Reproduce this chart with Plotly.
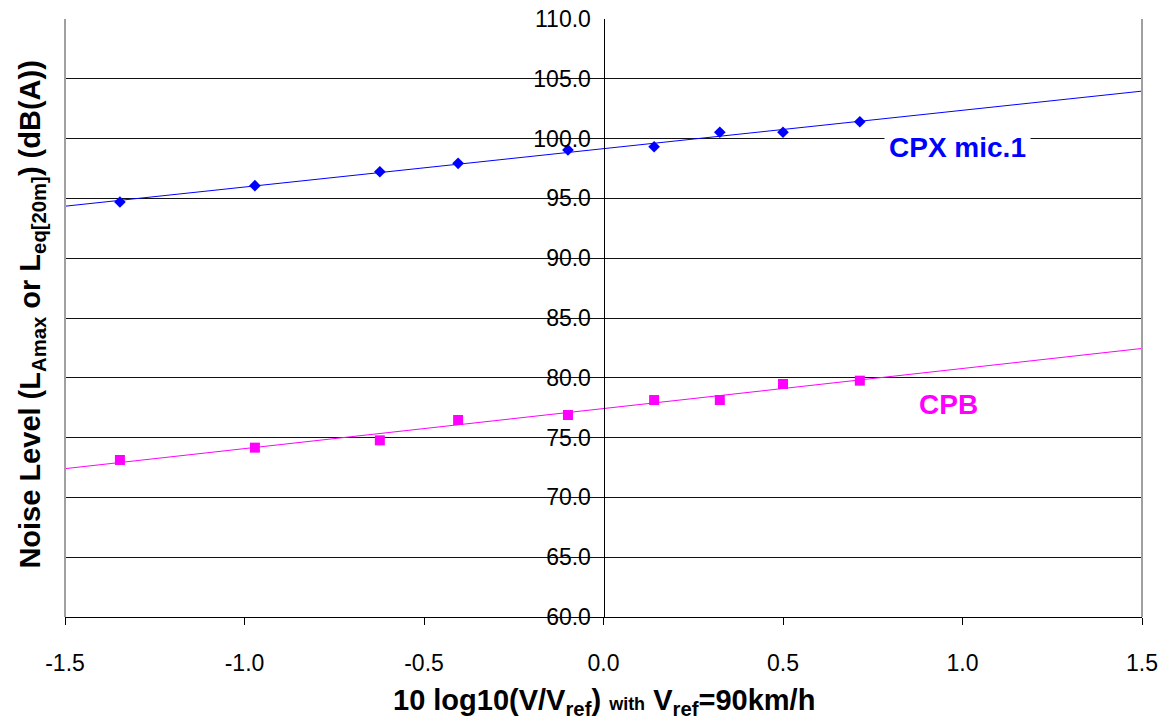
import numpy as np
import plotly.graph_objects as go

# Data
x_vals = [-1.347, -0.971, -0.623, -0.405, -0.099, 0.141, 0.324, 0.500, 0.714]
cpx_mic1 = [94.70, 96.06, 97.23, 97.93, 99.05, 99.32, 100.53, 100.53, 101.41]
cpb = [73.13, 74.16, 74.77, 76.47, 76.89, 78.14, 78.14, 79.48, 79.76]

x_ticks = [-1.5, -1.0, -0.5, 0.0, 0.5, 1.0, 1.5]
x_tick_labels = ["-1.5", "-1.0", "-0.5", "0.0", "0.5", "1.0", "1.5"]
y_ticks = [60, 65, 70, 75, 80, 85, 90, 95, 100, 105, 110]
y_tick_labels = ["60.0", "65.0", "70.0", "75.0", "80.0", "85.0", "90.0", "95.0", "100.0", "105.0", "110.0"]

x_range = [-1.5, 1.5]
y_range = [60, 110]

FONT = "Liberation Sans, Arial, sans-serif"
BLUE = "#0000ff"
MAGENTA = "#ff00ff"

# Linear trend lines (least squares from the data)
xs = np.array(x_vals)
line_x = np.array(x_range)
p_cpx = np.polyfit(xs, np.array(cpx_mic1), 1)
p_cpb = np.polyfit(xs, np.array(cpb), 1)

fig = go.Figure()
fig.add_trace(go.Scatter(x=line_x, y=np.polyval(p_cpx, line_x), mode="lines",
                         line=dict(color=BLUE, width=1), showlegend=False, hoverinfo="skip"))
fig.add_trace(go.Scatter(x=line_x, y=np.polyval(p_cpb, line_x), mode="lines",
                         line=dict(color=MAGENTA, width=1), showlegend=False, hoverinfo="skip"))
fig.add_trace(go.Scatter(x=x_vals, y=cpx_mic1, mode="markers", name="CPX mic.1",
                         marker=dict(symbol="diamond", size=9, color=BLUE), showlegend=False))
fig.add_trace(go.Scatter(x=x_vals, y=cpb, mode="markers", name="CPB",
                         marker=dict(symbol="square", size=10, color=MAGENTA), showlegend=False))

fig.update_layout(
    width=1167, height=720,
    margin=dict(l=65, r=25, t=19, b=103, autoexpand=False),
    paper_bgcolor="white", plot_bgcolor="white",
    font=dict(family=FONT, color="black"),
    xaxis=dict(
        range=x_range, tickvals=x_ticks, ticktext=x_tick_labels,
        showgrid=False, zeroline=False, automargin=False,
        showline=True, linecolor="black", linewidth=1,
        ticks="outside", ticklen=7, tickcolor="black", tickwidth=1,
        tickfont=dict(size=23, family=FONT, color="black"),
        ticklabelstandoff=18,
    ),
    yaxis=dict(
        range=y_range, tickvals=y_ticks, ticktext=y_tick_labels,
        anchor="free", position=0.5, automargin=False,
        showgrid=True, gridcolor="#111111", gridwidth=1,
        zeroline=False,
        showline=True, linecolor="black", linewidth=1,
        ticks="", tickfont=dict(size=23, family=FONT, color="black"),
        ticklabelstandoff=8,
    ),
    shapes=[
        dict(type="line", xref="paper", yref="paper", x0=0, x1=0, y0=0, y1=1,
             line=dict(color="#a0a0a0", width=2)),
        dict(type="line", xref="paper", yref="paper", x0=1, x1=1, y0=0, y1=1,
             line=dict(color="#a0a0a0", width=2)),
    ],
    annotations=[
        dict(text="<b>CPX mic.1</b>", x=0.985, y=99.25, xref="x", yref="y",
             showarrow=False, font=dict(size=28, color=BLUE, family=FONT),
             bgcolor="white", borderpad=4),
        dict(text="<b>CPB</b>", x=0.962, y=77.8, xref="x", yref="y",
             showarrow=False, font=dict(size=28, color=MAGENTA, family=FONT)),
        dict(text="<b>Noise Level (L<sub>Amax</sub> or L<sub>eq[20m]</sub>) (dB(A))</b>",
             xref="paper", yref="paper", x=-0.031, y=0.505, textangle=-90,
             xanchor="center", yanchor="middle", showarrow=False,
             font=dict(size=29, family=FONT, color="black")),
        dict(text="<b>10 log10(V/V<sub>ref</sub>) <span style='font-size:18px'>with</span> V<sub>ref</sub>=90km/h</b>",
             xref="paper", yref="paper", x=0.5, y=-0.142,
             xanchor="center", yanchor="middle", showarrow=False,
             font=dict(size=29, family=FONT, color="black")),
    ],
)

fig.write_html("out.html")
